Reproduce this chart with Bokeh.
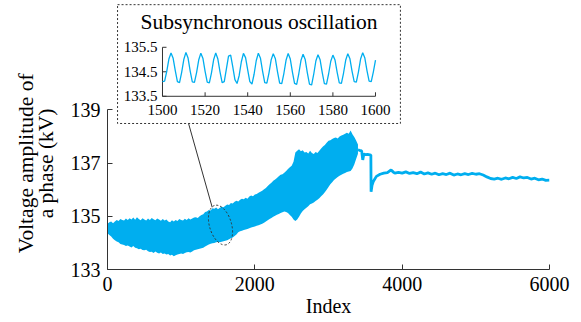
import math
from bokeh.plotting import figure
from bokeh.layouts import row
from bokeh.models import Range1d, FixedTicker
from bokeh.core.properties import value
from bokeh.embed import file_html
from bokeh.resources import INLINE

FONT = "Liberation Serif"
BLUE = "#00AEEF"
AXIS = "#333333"

# ---------------- data ----------------
x_ticks = [0, 2000, 4000, 6000]
y_ticks = [133, 135, 137, 139]

# envelope of the oscillating signal, index 0 .. 3400 every 25 samples
env_idx = list(range(0, 3401, 25))
env_upper = [134.72, 134.78, 134.80, 134.74, 134.80, 134.86, 134.82, 134.90,
             134.86, 134.84, 134.92, 134.86, 134.93, 134.88, 134.95, 134.87,
             134.96, 134.90, 134.85, 134.93, 134.88, 134.84, 134.92, 134.86,
             134.94, 134.89, 134.85, 134.92, 134.88, 134.83, 134.90, 134.84,
             134.88, 134.80, 134.78, 134.85, 134.80, 134.86, 134.82, 134.90,
             134.86, 134.84, 134.91, 134.86, 134.93, 134.88, 134.92, 134.95,
             134.96, 134.94, 135.00, 135.05, 135.08, 135.16, 135.18, 135.24,
             135.22, 135.30, 135.28, 135.33, 135.26, 135.32, 135.36, 135.34,
             135.40, 135.44, 135.42, 135.50, 135.48, 135.55, 135.58, 135.56,
             135.62, 135.66, 135.64, 135.70, 135.66, 135.74, 135.78, 135.75,
             135.82, 135.84, 135.88, 135.92, 135.96, 136.02, 136.06, 136.14,
             136.20, 136.26, 136.34, 136.38, 136.44, 136.50, 136.56, 136.58,
             136.64, 136.70, 136.78, 136.84, 136.90, 137.05, 137.40, 137.46,
             137.52, 137.44, 137.48, 137.40, 137.42, 137.36, 137.46, 137.38,
             137.34, 137.42, 137.38, 137.46, 137.55, 137.62, 137.68, 137.76,
             137.84, 137.86, 137.90, 137.94, 137.96, 137.92, 138.00, 138.04,
             138.06, 138.10, 138.14, 138.10, 138.22, 138.08, 137.98, 137.85,
             137.70]
env_lower = [134.36, 134.30, 134.24, 134.16, 134.10, 134.05, 134.02, 133.96,
             133.94, 133.92, 133.88, 133.90, 133.86, 133.83, 133.88, 133.82,
             133.80, 133.76, 133.78, 133.73, 133.72, 133.74, 133.69, 133.66,
             133.67, 133.62, 133.68, 133.63, 133.60, 133.64, 133.58, 133.60,
             133.56, 133.58, 133.53, 133.55, 133.50, 133.54, 133.56, 133.58,
             133.60, 133.58, 133.62, 133.65, 133.66, 133.64, 133.68, 133.72,
             133.74, 133.76, 133.78, 133.80, 133.82, 133.86, 133.90, 133.94,
             133.97, 133.99, 134.00, 134.02, 134.03, 134.02, 134.04, 134.06,
             134.08, 134.10, 134.14, 134.17, 134.20, 134.26, 134.32, 134.40,
             134.44, 134.46, 134.48, 134.50, 134.52, 134.55, 134.58, 134.60,
             134.62, 134.64, 134.66, 134.69, 134.72, 134.76, 134.80, 134.85,
             134.90, 134.94, 134.98, 135.02, 135.06, 135.09, 135.12, 135.15,
             135.18, 135.16, 135.12, 135.05, 134.98, 134.88, 134.82, 134.88,
             134.98, 135.10, 135.20, 135.26, 135.32, 135.38, 135.45, 135.48,
             135.52, 135.57, 135.62, 135.68, 135.75, 135.82, 135.90, 136.00,
             136.10, 136.20, 136.28, 136.36, 136.42, 136.48, 136.52, 136.56,
             136.60, 136.63, 136.66, 136.68, 136.70, 136.80, 136.95, 137.15,
             137.35]

# after the oscillation stops
tail_idx = [3400, 3420, 3450, 3465, 3480, 3500, 3530, 3560, 3575, 3578, 3590, 3610,
            3650, 3700, 3750, 3800, 3850, 3880, 3900, 3950, 4000, 4050, 4100, 4150,
            4200, 4250, 4300, 4350, 4400, 4450, 4500, 4550, 4600, 4650, 4700, 4750,
            4800, 4850, 4900, 4950, 5000, 5050, 5100, 5150, 5200, 5250, 5300, 5350,
            5400, 5450, 5500, 5550, 5600, 5650, 5700, 5750, 5800, 5850, 5900, 5950, 6000]
tail_val = [137.50, 137.48, 137.46, 137.12, 137.34, 137.32, 137.33, 137.31, 137.30,
            135.92, 136.15, 136.32, 136.50, 136.58, 136.62, 136.64, 136.74, 136.66,
            136.62, 136.65, 136.62, 136.67, 136.61, 136.64, 136.60, 136.66, 136.59,
            136.63, 136.58, 136.62, 136.56, 136.60, 136.57, 136.62, 136.55, 136.59,
            136.56, 136.60, 136.57, 136.61, 136.58, 136.60, 136.55, 136.48, 136.42,
            136.40, 136.43, 136.39, 136.44, 136.41, 136.46, 136.42, 136.48, 136.44,
            136.46, 136.40, 136.43, 136.37, 136.40, 136.35, 136.36]

# inset: samples 1500 .. 1600
inset_idx = list(range(1500, 1601))
inset_val = [134.10, 134.12, 134.52, 135.02, 135.27, 135.05, 134.55, 134.10, 134.06, 134.48,
             135.00, 135.29, 135.06, 134.53, 134.09, 134.07, 134.47, 134.98, 135.26, 135.04,
             134.52, 134.08, 134.05, 134.46, 134.99, 135.27, 135.02, 134.50, 134.06, 134.10,
             134.62, 135.14, 135.18, 134.70, 134.18, 134.02, 134.35, 134.90, 135.25, 135.08,
             134.58, 134.10, 134.00, 134.40, 134.95, 135.26, 135.05, 134.52, 134.06, 134.04,
             134.46, 134.98, 135.24, 135.03, 134.50, 134.04, 134.02, 134.44, 134.97, 135.25,
             135.02, 134.49, 134.03, 133.99, 134.43, 134.96, 135.22, 135.00, 134.46, 134.00,
             133.96, 134.40, 134.94, 135.20, 134.99, 134.47, 134.02, 134.00, 134.42, 134.93,
             135.18, 134.98, 134.48, 134.05, 134.03, 134.45, 134.97, 135.24, 135.03, 134.52,
             134.10, 134.08, 134.50, 135.02, 135.28, 135.06, 134.55, 134.12, 134.10, 134.50,
             134.98]
inset_xticks = [1500, 1520, 1540, 1560, 1580, 1600]
inset_xlabels = ["1500", "1520", "1540", "1560", "1580", "1600"]
inset_yticks = [133.5, 134.5, 135.5]
inset_ylabels = ["133.5", "134.5", "135.5"]
inset_title = "Subsynchronous oscillation"
y_label_lines = ["Voltage amplitude of", "a phase (kV)"]
x_label = "Index"

# ---------------- layout constants ----------------
W, H = 581, 322
LW = 60                      # width of the strip holding the y-axis title
FW, FH = 442, 269
IX = (1474.18, 1681.69)
IY = (126.43, 137.41)
BOX = dict(left=1478.9, right=1611.7, top=137.24, bottom=132.39)
ELL = dict(x=1534, y=134.67, w=41, h=22, angle=-1.28)
CONN = dict(x0=1100, y0=138.49, x1=1421, y1=135.34)
YLAB_X = [25, 45]            # pixel centres of the two title lines
YLAB_Y = H - 195

# ---------- strip with the two-line y-axis title ----------
lab = figure(width=LW, height=H, x_range=Range1d(0, LW), y_range=Range1d(0, H),
             min_border=0, output_backend="svg", toolbar_location=None,
             outline_line_color=None, background_fill_color="white",
             border_fill_color="white")
lab.axis.visible = False
lab.grid.visible = False
lab.text(x=YLAB_X, y=[YLAB_Y] * len(YLAB_X), text=y_label_lines, angle=math.pi / 2,
         text_align="center", text_baseline="middle", text_font=value(FONT),
         text_font_size="21.5px", text_color="black")

# ---------- main figure ----------
p = figure(frame_width=FW, frame_height=FH,
           min_border_left=107 - LW, min_border_right=32, min_border_top=0,
           min_border_bottom=53,
           x_range=Range1d(0, 6000), y_range=Range1d(133, 143.11),
           output_backend="svg", toolbar_location=None,
           background_fill_color="white", border_fill_color="white",
           outline_line_color=None)
p.extra_x_ranges = {"ix": Range1d(*IX)}
p.extra_y_ranges = {"iy": Range1d(*IY)}
p.xgrid.visible = False
p.ygrid.visible = False

for ax in (p.xaxis[0], p.yaxis[0]):
    ax.axis_line_color = AXIS
    ax.major_tick_line_color = AXIS
    ax.major_tick_in = 5
    ax.major_tick_out = 0
    ax.minor_tick_in = 0
    ax.minor_tick_out = 0
    ax.major_label_text_font = FONT
    ax.major_label_text_font_size = "20px"
    ax.major_label_text_color = "black"
    ax.major_label_standoff = 7
    ax.axis_label_text_font = FONT
    ax.axis_label_text_font_style = "normal"
    ax.axis_label_text_color = "black"
p.xaxis.ticker = FixedTicker(ticks=x_ticks)
p.yaxis.ticker = FixedTicker(ticks=y_ticks)
p.yaxis.bounds = (y_ticks[0], y_ticks[-1])
p.xaxis.axis_label = x_label
p.xaxis.axis_label_text_font_size = "20px"
p.xaxis.axis_label_standoff = 1

# main signal
p.varea(x=env_idx, y1=env_lower, y2=env_upper, fill_color=BLUE)
p.line(tail_idx, tail_val, line_color=BLUE, line_width=2.8)

# zoom marker
p.ellipse(x=[ELL["x"]], y=[ELL["y"]], width=ELL["w"], height=ELL["h"], angle=ELL["angle"],
          width_units="screen", height_units="screen", fill_color=None,
          line_color=AXIS, line_dash="2 2", line_width=1)
p.segment(x0=[CONN["x0"]], y0=[CONN["y0"]], x1=[CONN["x1"]], y1=[CONN["y1"]],
          line_color=AXIS, line_width=1)

# inset box
p.quad(left=[BOX["left"]], right=[BOX["right"]], top=[BOX["top"]], bottom=[BOX["bottom"]],
       x_range_name="ix", y_range_name="iy", fill_color="white",
       line_color=AXIS, line_dash="2 2", line_width=1)
p.text(x=[(BOX["left"] + BOX["right"]) / 2], y=[BOX["top"]], text=[inset_title],
       x_range_name="ix", y_range_name="iy", text_align="center", text_baseline="top",
       y_offset=5, text_font=value(FONT), text_font_size="21.5px", text_color="black")

# inset axes
x0i, x1i = inset_xticks[0], inset_xticks[-1]
y0i, y1i = inset_yticks[0], inset_yticks[-1]
p.segment(x0=[x0i, x0i], y0=[y0i, y0i], x1=[x1i, x0i], y1=[y0i, y1i],
          x_range_name="ix", y_range_name="iy", line_color=AXIS, line_width=1)
p.ray(x=inset_xticks, y=[y0i] * len(inset_xticks), length=4, length_units="screen",
      angle=math.pi / 2, x_range_name="ix", y_range_name="iy", line_color=AXIS, line_width=1)
p.ray(x=[x0i] * len(inset_yticks), y=inset_yticks, length=4, length_units="screen",
      angle=0, x_range_name="ix", y_range_name="iy", line_color=AXIS, line_width=1)
p.text(x=inset_xticks, y=[y0i] * len(inset_xticks), text=inset_xlabels,
       x_range_name="ix", y_range_name="iy", text_align="center", text_baseline="top",
       y_offset=9, text_font=value(FONT), text_font_size="15px", text_color="black")
p.text(x=[x0i] * len(inset_yticks), y=inset_yticks, text=inset_ylabels,
       x_range_name="ix", y_range_name="iy", text_align="right", text_baseline="middle",
       x_offset=-5, text_font=value(FONT), text_font_size="15px", text_color="black")

# inset signal
p.line(inset_idx, inset_val, x_range_name="ix", y_range_name="iy",
       line_color=BLUE, line_width=1.3)

layout = row(lab, p, spacing=0)
open("out.html", "w").write(file_html(layout, INLINE))
